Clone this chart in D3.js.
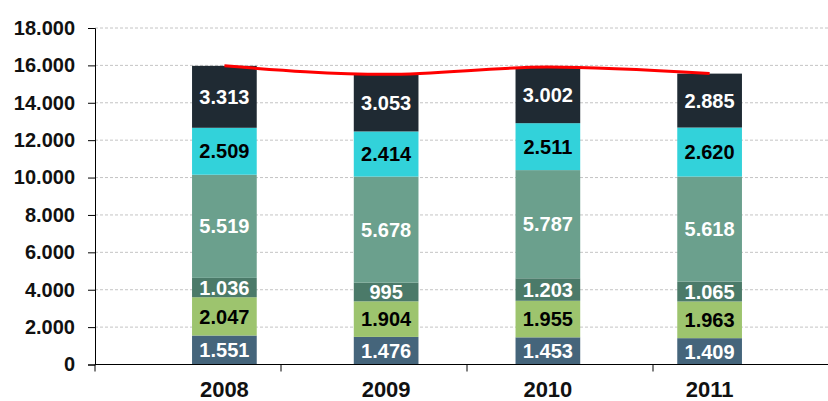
<!DOCTYPE html>
<html>
<head>
<meta charset="utf-8">
<script src="https://cdn.jsdelivr.net/npm/d3@7"></script>
<style>
  body { margin: 0; background: #fff; }
  text { font-family: "Liberation Sans", Arial, sans-serif; font-weight: bold; }
</style>
</head>
<body>
<svg id="chart" width="828" height="401"></svg>
<script>
const years = ["2008", "2009", "2010", "2011"];
const seriesNames = ["s1", "s2", "s3", "s4", "s5", "s6"];
const s1 = [1551, 1476, 1453, 1409];
const s2 = [2047, 1904, 1955, 1963];
const s3 = [1036, 995, 1203, 1065];
const s4 = [5519, 5678, 5787, 5618];
const s5 = [2509, 2414, 2511, 2620];
const s6 = [3313, 3053, 3002, 2885];
const yTicks = [0, 2000, 4000, 6000, 8000, 10000, 12000, 14000, 16000, 18000];

const fills = ["#45657b", "#9dc46e", "#4b7a69", "#6ba08d", "#32d2da", "#1f2a33"];
const labelColors = ["#fff", "#000", "#fff", "#fff", "#000", "#fff"];

const rows = years.map((y, i) => ({
    year: y, s1: s1[i], s2: s2[i], s3: s3[i], s4: s4[i], s5: s5[i], s6: s6[i]
}));
const stacked = d3.stack().keys(seriesNames)(rows);
const totals = rows.map(r => seriesNames.reduce((a, k) => a + r[k], 0));

const margin = {left: 95, top: 28, bottom: 36.5},
      W = 828, H = 401,
      bandW = 186;

const svg = d3.select("#chart");
const x = d3.scaleBand().domain(years)
    .range([margin.left, margin.left + bandW * years.length])
    .padding(0.6);
const y = d3.scaleLinear().domain([0, 18000]).range([H - margin.bottom, margin.top]);

const fmt = v => d3.format(",")(v).replace(/,/g, ".");

// grid
svg.append("g").selectAll("line")
    .data(yTicks.filter(d => d > 0))
    .join("line")
    .attr("x1", margin.left).attr("x2", W)
    .attr("y1", d => y(d)).attr("y2", d => y(d))
    .attr("stroke", "#c4c4c4")
    .attr("stroke-dasharray", "3,2");

// y axis
const yAxis = d3.axisLeft(y).tickValues(yTicks).tickFormat(fmt).tickSize(7).tickPadding(13);
svg.append("g")
    .attr("transform", `translate(${margin.left},0)`)
    .call(yAxis)
    .call(g => g.select(".domain").attr("stroke", "#000"))
    .call(g => g.selectAll("text").attr("font-size", 20).attr("fill", "#111")
        .style("font-family", "'Liberation Sans', Arial, sans-serif").style("font-weight", "bold"));

// bars
const layers = svg.append("g").selectAll("g")
    .data(stacked)
    .join("g")
    .attr("fill", (d, i) => fills[i]);
layers.selectAll("rect")
    .data(d => d)
    .join("rect")
    .attr("x", d => x(d.data.year))
    .attr("width", x.bandwidth())
    .attr("y", d => y(d[1]))
    .attr("height", d => y(d[0]) - y(d[1]));

// labels
svg.append("g").selectAll("g")
    .data(stacked)
    .join("g")
    .attr("fill", (d, i) => labelColors[i])
    .selectAll("text")
    .data(d => d)
    .join("text")
    .attr("x", d => x(d.data.year) + x.bandwidth() / 2)
    .attr("y", d => (y(d[0]) + y(d[1])) / 2)
    .attr("dy", "0.36em")
    .attr("text-anchor", "middle")
    .attr("font-size", 20)
    .text(d => fmt(d[1] - d[0]));

// x axis
const bounds = d3.range(years.length + 1).map(i => margin.left + i * bandW);
const xg = svg.append("g");
xg.append("line")
    .attr("x1", margin.left).attr("x2", W)
    .attr("y1", y(0)).attr("y2", y(0))
    .attr("stroke", "#000");
xg.selectAll(".tick")
    .data(bounds)
    .join("line")
    .attr("class", "tick")
    .attr("x1", d => d).attr("x2", d => d)
    .attr("y1", y(0)).attr("y2", y(0) + 7)
    .attr("stroke", "#000");
xg.selectAll("text")
    .data(years)
    .join("text")
    .attr("x", d => x(d) + x.bandwidth() / 2)
    .attr("y", y(0) + 32)
    .attr("text-anchor", "middle")
    .attr("font-size", 22)
    .attr("fill", "#111")
    .text(d => d);

// total line
const line = d3.line()
    .curve(d3.curveMonotoneX)
    .x((d, i) => x(years[i]) + x.bandwidth() / 2)
    .y(d => y(d));
svg.append("path")
    .datum(totals)
    .attr("d", line)
    .attr("fill", "none")
    .attr("stroke", "#ff0000")
    .attr("stroke-width", 3);
</script>
</body>
</html>
